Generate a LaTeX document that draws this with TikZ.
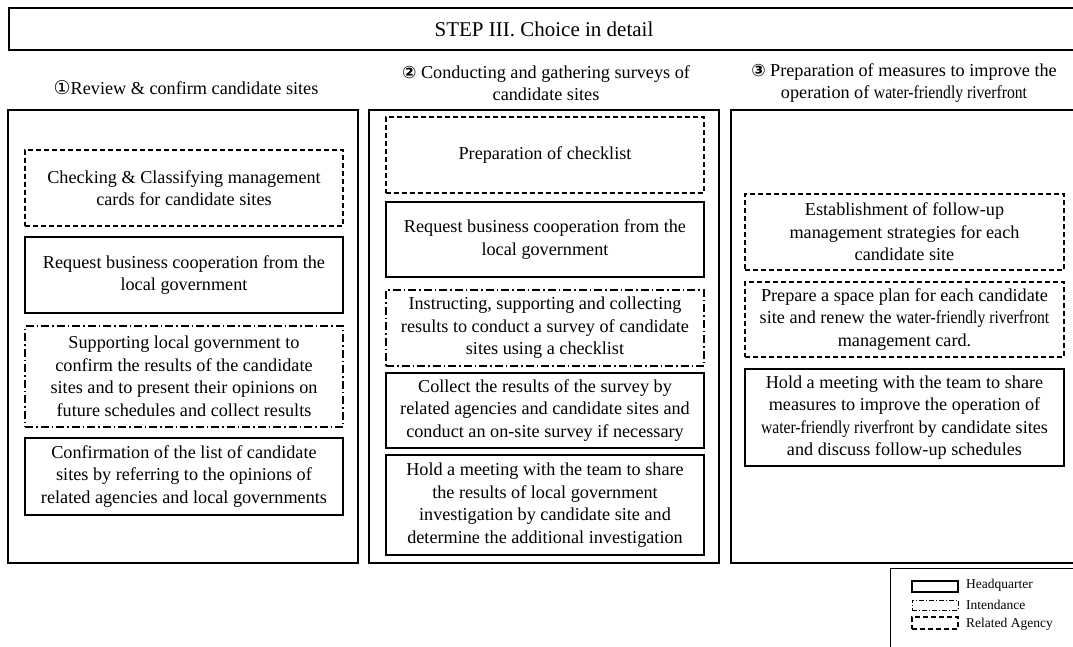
\documentclass[tikz,border=0pt]{standalone}
\usepackage{fontspec}
\setmainfont{Liberation Serif}
\newfontfamily\symfont{DejaVu Sans}
\newfontfamily\condfont[FakeStretch=0.86]{Liberation Serif}
\newcommand{\wfr}{{\condfont water-friendly riverfront}}
\begin{document}
\begin{tikzpicture}[x=1pt,y=-1pt,
  hq/.style={draw, line width=1.3pt, align=center, inner sep=0pt, font=\fontsize{18.2}{22.5}\selectfont},
  ra/.style={hq, dash pattern=on 5pt off 3pt},
  it/.style={hq, dash pattern=on 8pt off 3pt on 1.5pt off 3pt},
  colbox/.style={draw, line width=1.5pt},
  head/.style={align=center, inner sep=0pt, font=\fontsize{18.2}{21.5}\selectfont},
  legtext/.style={anchor=west, inner sep=0pt, font=\fontsize{13.5}{15}\selectfont}
]
\clip (0,0) rectangle (1073,647);
\fill[white] (0,0) rectangle (1073,647);

% title
\draw[line width=2.6pt] (9,8) rectangle (1090,50);
\node[inner sep=0pt, font=\fontsize{21}{25}\selectfont] (title) at (544,29) {STEP III. Choice in detail};

% headers
\node[head] (h1) at (186,88) {{\symfont\fontsize{19}{20}\selectfont ①}Review \& confirm candidate sites};
\node[head] (h2) at (546,83) {{\symfont\bfseries\fontsize{17}{20}\selectfont ②} Conducting and gathering surveys of\\candidate sites};
\node[head] (h3) at (904,83) {{\symfont\bfseries\fontsize{17}{20}\selectfont ③} Preparation of measures to improve the\\operation of \wfr};

% column boxes
\draw[colbox] (8,110) rectangle (358,563);
\draw[colbox] (369,110) rectangle (719,563);
\draw[colbox] (731,110) rectangle (1090,563);

% column 1
\node[ra, minimum width=318pt, minimum height=76pt] (a1) at (184,188) {Checking \& Classifying management\\cards for candidate sites};
\node[hq, minimum width=318pt, minimum height=76pt] (a2) at (184,275) {Request business cooperation from the\\local government};
\node[it, minimum width=318pt, minimum height=101pt] (a3) at (184,376.5) {Supporting local government to\\confirm the results of the candidate\\sites and to present their opinions on\\future schedules and collect results};
\node[hq, minimum width=318pt, minimum height=77pt] (a4) at (184,476.5) {Confirmation of the list of candidate\\sites by referring to the opinions of\\related agencies and local governments};

% column 2
\node[ra, minimum width=318pt, minimum height=76pt] (b1) at (545,155) {Preparation of checklist};
\node[hq, minimum width=318pt, minimum height=75pt] (b2) at (545,239.5) {Request business cooperation from the\\local government};
\node[it, minimum width=318pt, minimum height=76pt] (b3) at (545,328) {Instructing, supporting and collecting\\results to conduct a survey of candidate\\sites using a checklist};
\node[hq, minimum width=318pt, minimum height=75pt] (b4) at (545,410.5) {Collect the results of the survey by\\related agencies and candidate sites and\\conduct an on-site survey if necessary};
\node[hq, minimum width=318pt, minimum height=100pt] (b5) at (545,505) {Hold a meeting with the team to share\\the results of local government\\investigation by candidate site and\\determine the additional investigation};

% column 3
\node[ra, minimum width=319pt, minimum height=76pt] (c1) at (904.5,232) {Establishment of follow-up\\management strategies for each\\candidate site};
\node[ra, minimum width=319pt, minimum height=75pt] (c2) at (904.5,319.5) {Prepare a space plan for each candidate\\site and renew the \wfr\\management card.};
\node[hq, minimum width=319pt, minimum height=97pt] (c3) at (904.5,417.5) {Hold a meeting with the team to share\\measures to improve the operation of\\\wfr\ by candidate sites\\and discuss follow-up schedules};

% legend
\draw[line width=1pt] (890,568) rectangle (1090,660);
\node[draw, line width=1.2pt, minimum width=46pt, minimum height=11pt, inner sep=0pt] (l1) at (935,586.5) {};
\node[draw, line width=0.8pt, dash pattern=on 5pt off 2pt on 1pt off 2pt, minimum width=46pt, minimum height=10pt, inner sep=0pt] (l2) at (935,605) {};
\node[draw, line width=1.1pt, dash pattern=on 5pt off 3pt, minimum width=46pt, minimum height=12pt, inner sep=0pt] (l3) at (935,623) {};
\node[legtext] (t1) at (966,585) {Headquarter};
\node[legtext] (t2) at (966,605) {Intendance};
\node[legtext] (t3) at (966,624) {Related Agency};
\end{tikzpicture}
\end{document}
